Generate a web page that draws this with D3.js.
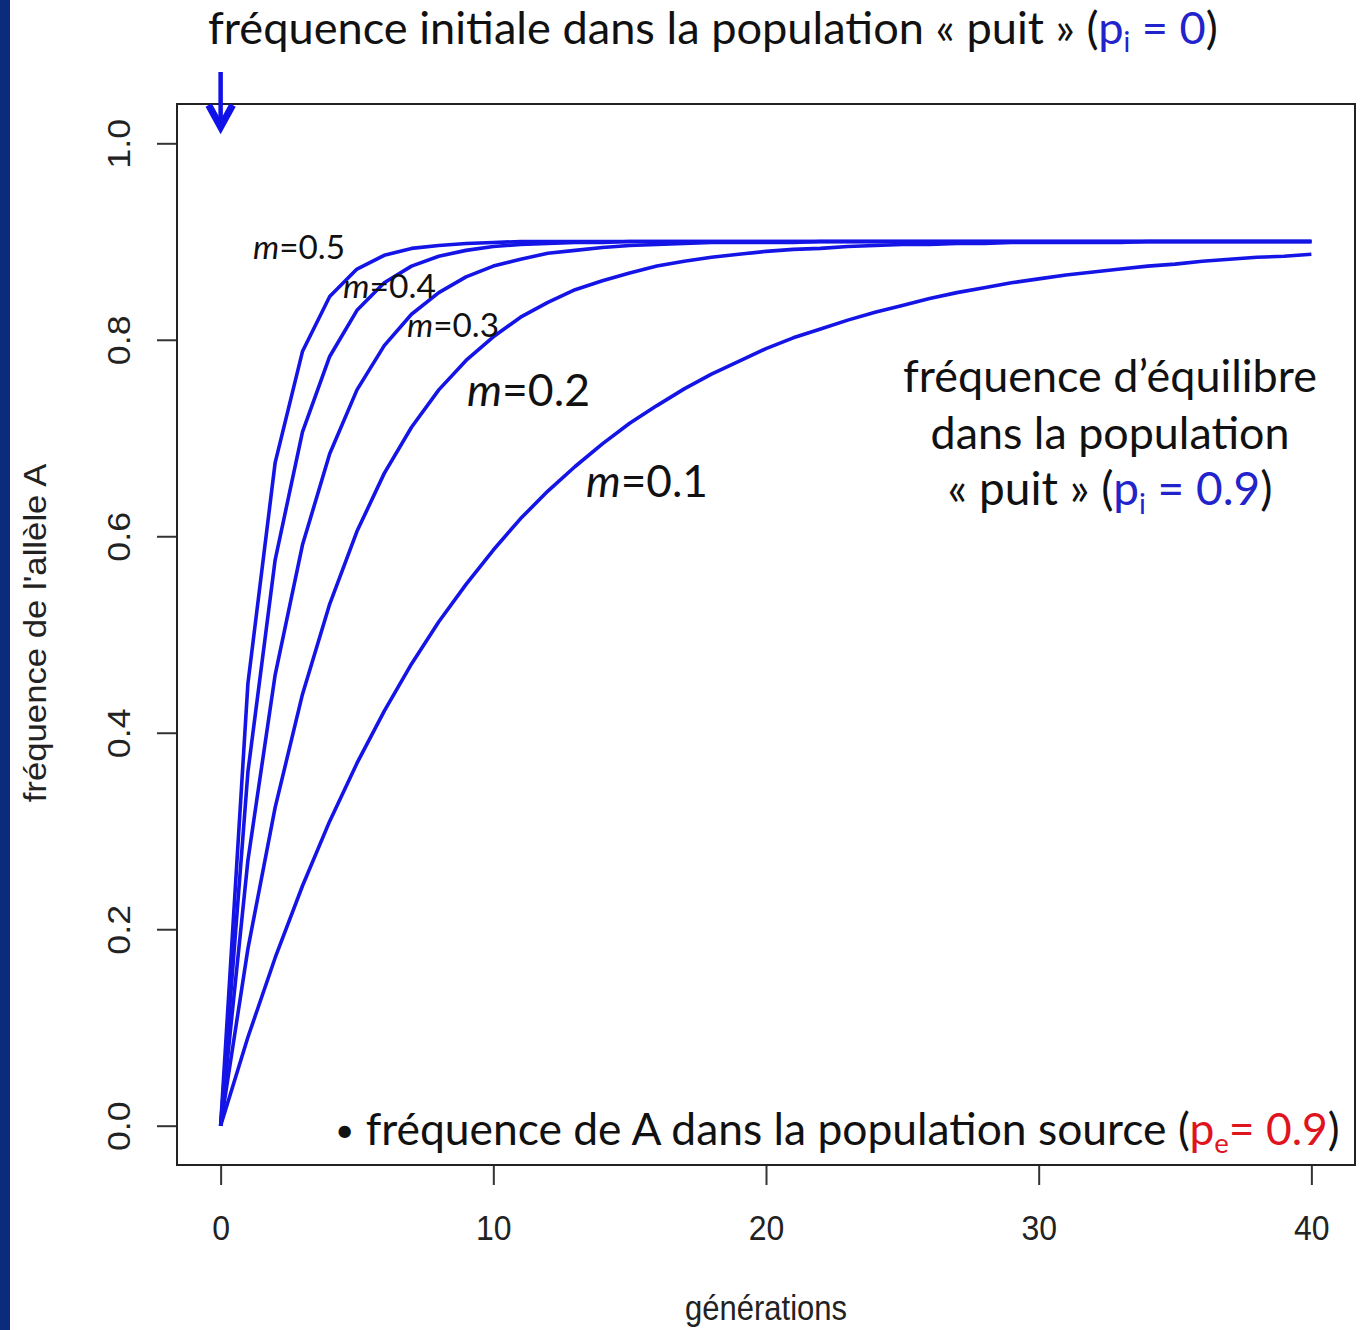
<!DOCTYPE html>
<html>
<head>
<meta charset="utf-8">
<script src="https://cdn.jsdelivr.net/npm/d3@7"></script>
<style>
  body { margin: 0; background: #fff; }
  .rtext { font-family: "Liberation Sans", Arial, sans-serif; fill: #222; }
  .ptext { font-family: Lato, "Open Sans", sans-serif; fill: #111; }
</style>
</head>
<body>
<div id="chart"></div>
<script>
// generations on the x axis
const generations = d3.range(0, 41);

// allele frequency in the "sink" population, one series per migration rate m
const migrationRates = [0.1, 0.2, 0.3, 0.4, 0.5];
const freqM01 = [0, 0.090, 0.171, 0.244, 0.310, 0.369, 0.422, 0.470, 0.513, 0.551,
  0.586, 0.618, 0.646, 0.671, 0.694, 0.715, 0.733, 0.750, 0.765, 0.778,
  0.791, 0.802, 0.811, 0.820, 0.828, 0.835, 0.842, 0.848, 0.853, 0.858,
  0.862, 0.866, 0.869, 0.872, 0.875, 0.877, 0.880, 0.882, 0.884, 0.885, 0.887];
const freqM02 = [0, 0.180, 0.324, 0.439, 0.531, 0.605, 0.664, 0.711, 0.749, 0.779,
  0.803, 0.823, 0.838, 0.851, 0.860, 0.868, 0.875, 0.880, 0.884, 0.887,
  0.890, 0.892, 0.893, 0.895, 0.896, 0.897, 0.897, 0.898, 0.898, 0.899,
  0.899, 0.899, 0.899, 0.899, 0.900, 0.900, 0.900, 0.900, 0.900, 0.900, 0.900];
const freqM03 = [0, 0.270, 0.459, 0.591, 0.684, 0.749, 0.794, 0.826, 0.848, 0.864,
  0.875, 0.882, 0.888, 0.891, 0.894, 0.896, 0.897, 0.898, 0.899, 0.899,
  0.899, 0.899, 0.900, 0.900, 0.900, 0.900, 0.900, 0.900, 0.900, 0.900,
  0.900, 0.900, 0.900, 0.900, 0.900, 0.900, 0.900, 0.900, 0.900, 0.900, 0.900];
const freqM04 = [0, 0.360, 0.576, 0.706, 0.783, 0.830, 0.858, 0.875, 0.885, 0.891,
  0.895, 0.897, 0.898, 0.899, 0.899, 0.900, 0.900, 0.900, 0.900, 0.900,
  0.900, 0.900, 0.900, 0.900, 0.900, 0.900, 0.900, 0.900, 0.900, 0.900,
  0.900, 0.900, 0.900, 0.900, 0.900, 0.900, 0.900, 0.900, 0.900, 0.900, 0.900];
const freqM05 = [0, 0.450, 0.675, 0.788, 0.844, 0.872, 0.886, 0.893, 0.896, 0.898,
  0.899, 0.900, 0.900, 0.900, 0.900, 0.900, 0.900, 0.900, 0.900, 0.900,
  0.900, 0.900, 0.900, 0.900, 0.900, 0.900, 0.900, 0.900, 0.900, 0.900,
  0.900, 0.900, 0.900, 0.900, 0.900, 0.900, 0.900, 0.900, 0.900, 0.900, 0.900];
const allSeries = [freqM01, freqM02, freqM03, freqM04, freqM05];

const xTicks = [0, 10, 20, 30, 40];
const yTicks = [0, 0.2, 0.4, 0.6, 0.8, 1.0];

const width = 1370, height = 1330;
const box = { left: 177, right: 1355, top: 104, bottom: 1165 };
const lineBlue = "#1414e6";
const textBlue = "#2323cc";
const textRed = "#e0141e";
const stretch = 1.12; // R text looks a bit taller than wide

const svg = d3.select("#chart").append("svg")
  .attr("width", width)
  .attr("height", height);

svg.append("rect").attr("width", width).attr("height", height).attr("fill", "#fff");
// dark slide edge on the left
svg.append("rect").attr("x", 0).attr("y", 0).attr("width", 10).attr("height", height).attr("fill", "#0b2c7c");

// R-like scales (4% padding on each side)
const x = d3.scaleLinear().domain([-1.6, 41.6]).range([box.left, box.right]);
const y = d3.scaleLinear().domain([-0.04, 1.04]).range([box.bottom, box.top]);

// axes
const yAxis = svg.append("g")
  .attr("class", "rtext")
  .attr("transform", `translate(${box.left},0)`)
  .call(d3.axisLeft(y).tickValues(yTicks).tickSize(20).tickFormat(d3.format(".1f")));
const xAxis = svg.append("g")
  .attr("class", "rtext")
  .attr("transform", `translate(0,${box.bottom})`)
  .call(d3.axisBottom(x).tickValues(xTicks).tickSize(20).tickFormat(d3.format("d")));

[xAxis, yAxis].forEach((a) => {
  a.select(".domain").remove();
  a.selectAll(".tick line").attr("stroke", "#333").attr("stroke-width", 2);
  a.selectAll(".tick text")
    .attr("fill", "#222")
    .attr("font-family", "Liberation Sans, Arial, sans-serif")
    .attr("font-size", 32);
});
yAxis.selectAll(".tick text")
  .attr("transform", `scale(1,${stretch}) rotate(-90)`)
  .attr("x", 0)
  .attr("y", -47)
  .attr("dy", 0)
  .attr("text-anchor", "middle");
xAxis.selectAll(".tick text")
  .attr("transform", `scale(1,${stretch})`)
  .attr("y", 75 / stretch)
  .attr("dy", 0);

// axis titles
svg.append("text")
  .attr("class", "rtext")
  .attr("transform", `translate(${(box.left + box.right) / 2},1320) scale(1,${stretch})`)
  .attr("text-anchor", "middle")
  .attr("font-size", 31)
  .text("générations");
svg.append("text")
  .attr("class", "rtext")
  .attr("transform", `translate(46,633) scale(1,${stretch}) rotate(-90)`)
  .attr("text-anchor", "middle")
  .attr("font-size", 31)
  .text("fréquence de l'allèle A");

// curves
const line = d3.line()
  .x((d, i) => x(generations[i]))
  .y((d) => y(d));

svg.append("g")
  .selectAll("path")
  .data(allSeries)
  .join("path")
  .attr("d", line)
  .attr("fill", "none")
  .attr("stroke", lineBlue)
  .attr("stroke-width", 3.6)
  .attr("stroke-linejoin", "round");

// plot box
svg.append("rect")
  .attr("x", box.left)
  .attr("y", box.top)
  .attr("width", box.right - box.left)
  .attr("height", box.bottom - box.top)
  .attr("fill", "none")
  .attr("stroke", "#222")
  .attr("stroke-width", 2);

// fit a text node to a target width by scaling its font size
function fitWidth(sel, target) {
  const len = sel.node().getComputedTextLength();
  const fs = parseFloat(sel.attr("font-size"));
  sel.attr("font-size", fs * target / len);
}

// text with a coloured p_sub part
function richText(xPos, yPos, anchor, size, target, before, sub, after, tail, color) {
  const t = svg.append("text")
    .attr("class", "ptext")
    .attr("x", xPos)
    .attr("y", yPos)
    .attr("text-anchor", anchor)
    .attr("font-size", size);
  t.append("tspan").text(before);
  if (sub !== null) {
    t.append("tspan").attr("fill", color).text("p");
    t.append("tspan").attr("fill", color).attr("font-size", "0.62em").attr("dy", "0.3em").text(sub);
    t.append("tspan").attr("fill", color).attr("dy", "-0.186em").text(after);
    t.append("tspan").text(tail);
  }
  fitWidth(t, target);
  return t;
}

// top note and arrow at generation 0
richText(208, 44, "start", 40, 1010, "fréquence initiale dans la population « puit » (", "i", " = 0", ")", textBlue);

svg.append("line")
  .attr("x1", x(0)).attr("x2", x(0))
  .attr("y1", 72).attr("y2", 124)
  .attr("stroke", "#1010e8").attr("stroke-width", 4.5);
svg.append("path")
  .attr("d", `M${x(0) - 12},105 L${x(0)},127 L${x(0) + 12},105`)
  .attr("fill", "none")
  .attr("stroke", "#1010e8")
  .attr("stroke-width", 7)
  .attr("stroke-linejoin", "miter");

// equilibrium note
richText(1110, 392, "middle", 40, 414, "fréquence d’équilibre", null);
richText(1110, 449, "middle", 40, 359, "dans la population", null);
richText(1110, 505, "middle", 40, 325, "« puit » (", "i", " = 0.9", ")", textBlue);

// source population note
const source = svg.append("text")
  .attr("class", "ptext")
  .attr("x", 335)
  .attr("y", 1145)
  .attr("font-size", 40);
source.append("tspan").attr("font-size", "0.75em").attr("dy", "-0.08em").text("•");
source.append("tspan").attr("dy", "0.06em").text(" fréquence de A dans la population source (");
source.append("tspan").attr("fill", textRed).text("p");
source.append("tspan").attr("fill", textRed).attr("font-size", "0.62em").attr("dy", "0.3em").text("e");
source.append("tspan").attr("fill", textRed).attr("dy", "-0.186em").text("= 0.9");
source.append("tspan").text(")");
fitWidth(source, 1005);

// curve labels
const curveLabels = [
  { rate: "0.5", px: 253, py: 259, size: 26, w: 92 },
  { rate: "0.4", px: 343, py: 298, size: 26, w: 93 },
  { rate: "0.3", px: 407, py: 337, size: 26, w: 92 },
  { rate: "0.2", px: 467, py: 406, size: 38, w: 123 },
  { rate: "0.1", px: 586, py: 497, size: 38, w: 122 }
];
curveLabels.forEach((c) => {
  const t = svg.append("text")
    .attr("class", "ptext")
    .attr("x", c.px)
    .attr("y", c.py)
    .attr("font-size", c.size);
  t.append("tspan").attr("font-style", "italic").text("m");
  t.append("tspan").text("=" + c.rate);
  fitWidth(t, c.w);
});
</script>
</body>
</html>
